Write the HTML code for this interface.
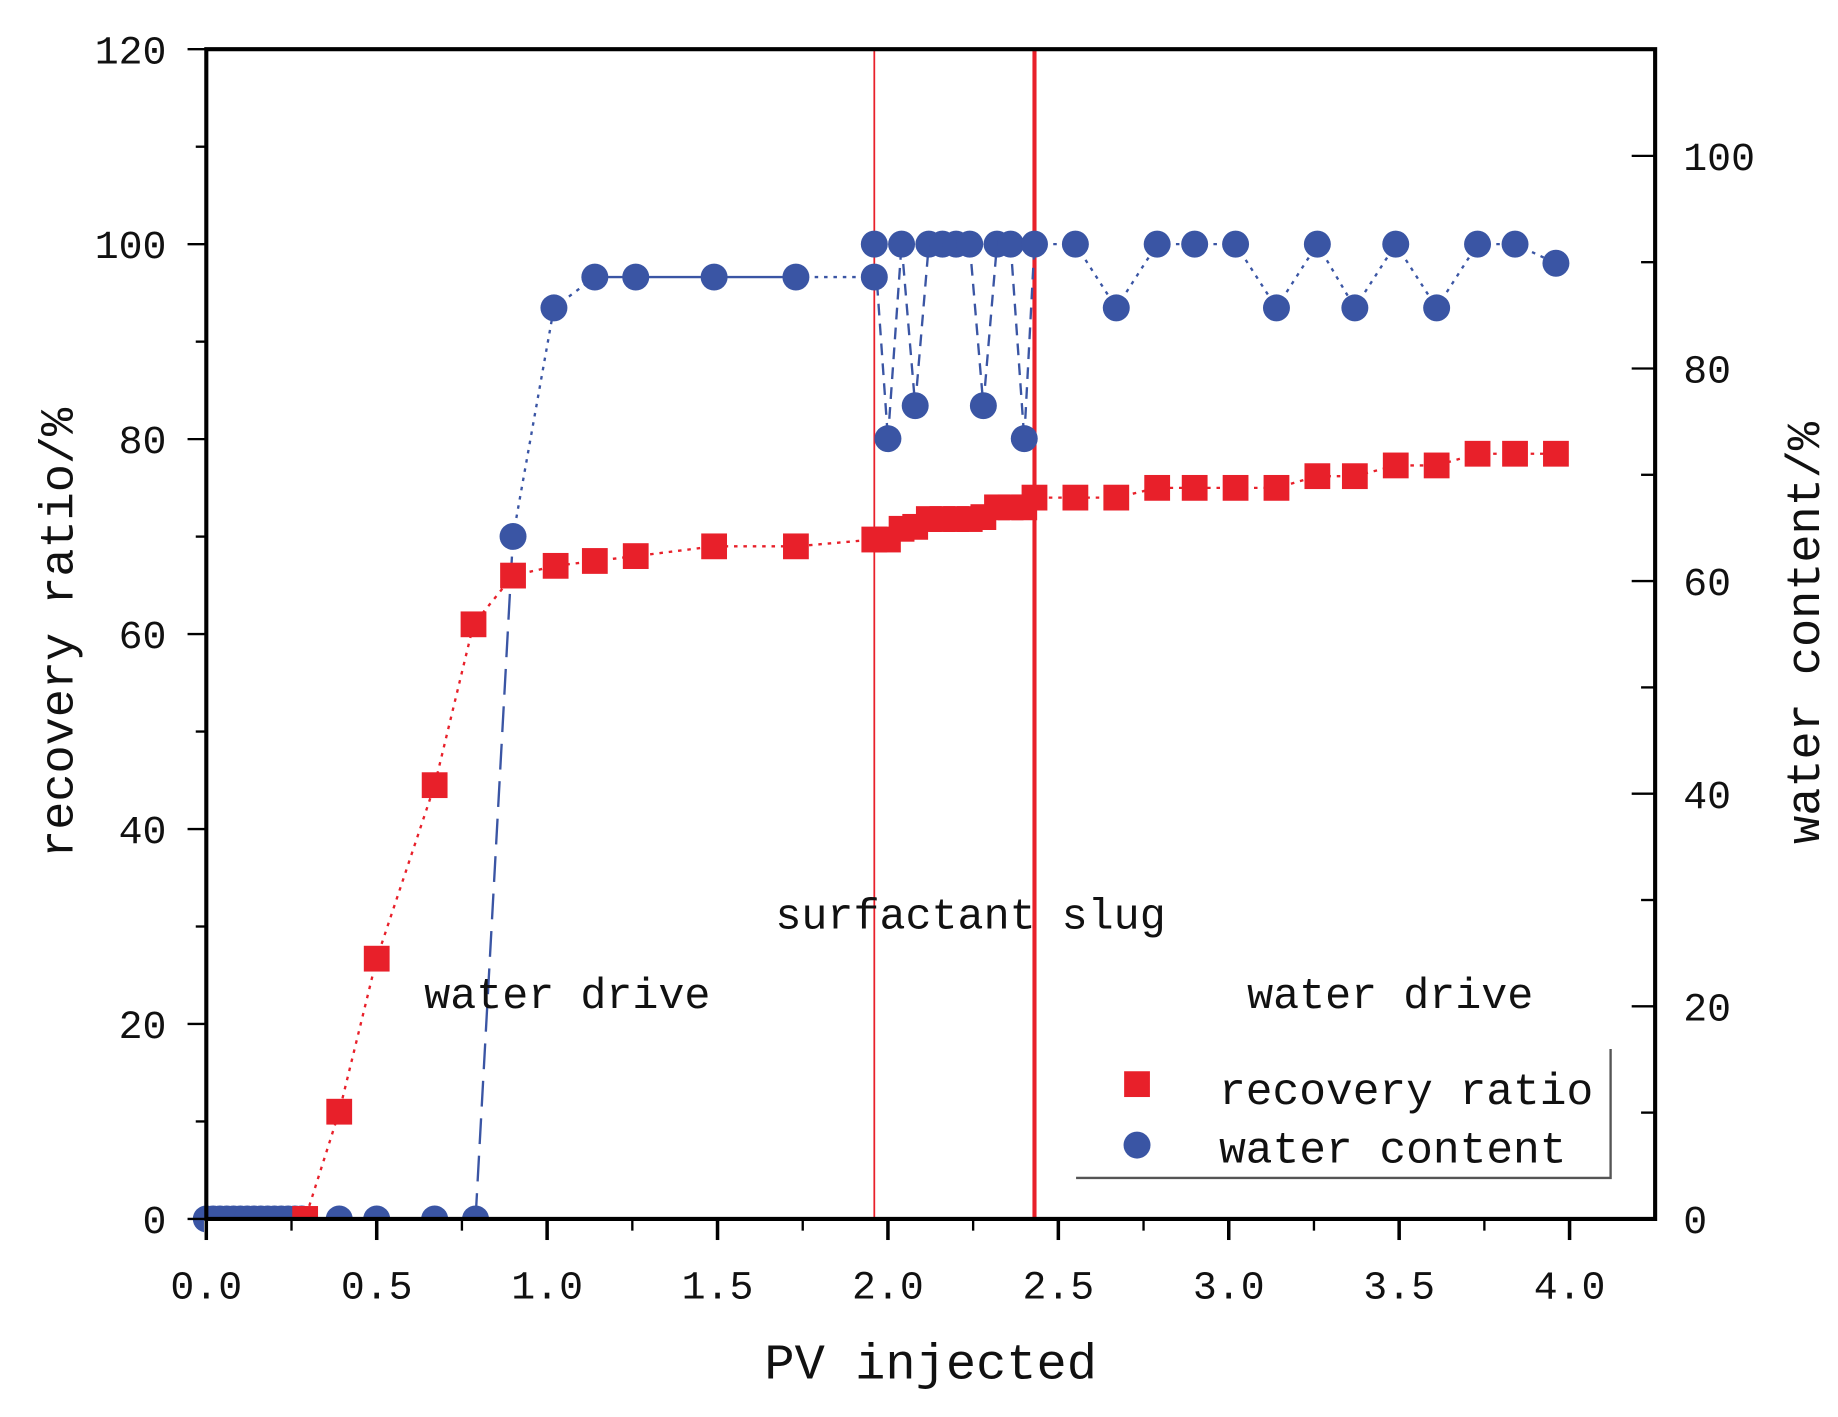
<!DOCTYPE html>
<html><head><meta charset="utf-8"><style>
html,body{margin:0;padding:0;background:#fff}
svg{display:block}
text{font-family:"Liberation Mono","Noto Sans CJK SC",monospace;fill:#111}
</style></head><body>
<svg id="chart" width="1838" height="1417" viewBox="0 0 1568 1209" preserveAspectRatio="none" xmlns="http://www.w3.org/2000/svg">
<g id="plot"></g>
</svg>
<script>
const recX=[0.29,0.39,0.50,0.67,0.784,0.90,1.025,1.14,1.26,1.49,1.73,1.96,2.00,2.04,2.08,2.12,2.16,2.20,2.24,2.28,2.32,2.36,2.40,2.43,2.55,2.67,2.79,2.90,3.02,3.14,3.26,3.37,3.49,3.61,3.73,3.84,3.96];
const recY=[0,11,26.7,44.5,61,66,67,67.5,68,69,69,69.7,69.7,70.8,71,71.8,71.8,71.8,71.8,72,73,73,73,74,74,74,75,75,75,75,76.2,76.2,77.3,77.3,78.5,78.5,78.5];
const watX=[0,0.02,0.04,0.06,0.08,0.10,0.12,0.14,0.16,0.18,0.20,0.22,0.24,0.26,0.28,0.39,0.50,0.67,0.79,0.90,1.02,1.14,1.26,1.49,1.73,1.96,1.96,2.00,2.04,2.08,2.12,2.16,2.20,2.24,2.28,2.32,2.36,2.40,2.43,2.55,2.67,2.79,2.90,3.02,3.14,3.26,3.37,3.49,3.61,3.73,3.84,3.96];
const watY=[0,0,0,0,0,0,0,0,0,0,0,0,0,0,0,0,0,0,0,64.2,85.7,88.6,88.6,88.6,88.6,88.6,91.7,73.4,91.7,76.5,91.7,91.7,91.7,91.7,76.5,91.7,91.7,73.4,91.7,91.7,85.7,91.7,91.7,91.7,85.7,91.7,85.7,91.7,85.7,91.7,91.7,89.9];
const xTicks=["0.0","0.5","1.0","1.5","2.0","2.5","3.0","3.5","4.0"];
const yLTicks=["0","20","40","60","80","100","120"];
const yRTicks=["0","20","40","60","80","100"];
const slugStart=1.96, slugEnd=2.43;

const X0=176,X1=1412,Y0=1040,YT=42;
const xs=v=>X0+v*290.75;
const yl=v=>Y0-v*(Y0-YT)/120;
const yr=v=>Y0-v*9.07;
const NS="http://www.w3.org/2000/svg";
const g=document.getElementById('plot');
function mk(tag,attrs,parent){const e=document.createElementNS(NS,tag);for(const k in attrs)e.setAttribute(k,attrs[k]);(parent||g).appendChild(e);return e;}

let l1=mk('line',{x1:xs(slugStart),x2:xs(slugStart),y1:YT,y2:Y0,stroke:'#e8202a','stroke-width':1.5});


let l2=mk('line',{x1:xs(slugEnd),x2:xs(slugEnd),y1:YT,y2:Y0,stroke:'#e8202a','stroke-width':3.5});



// water content line, segment styles vary
for(let i=1;i<watX.length;i++){
  const xa=watX[i-1],xb=watX[i];
  let dash='3,5';
  if(xa>=1.1&&xb<=1.8) dash='none';
  else if(xa>=1.9&&xb<=2.45) dash='10,7';
  else if(xa>=0.78&&xb<=0.91) dash='22,10';
  let s=mk('line',{x1:xs(xa),y1:yr(watY[i-1]),x2:xs(xb),y2:yr(watY[i]),stroke:'#3a55a4','stroke-width':2});
  if(dash!=='none')s.setAttribute('stroke-dasharray',dash);
  
  
}
let rp='M'+xs(0)+','+yl(0);
for(let i=0;i<recX.length;i++){rp+='L'+xs(recX[i])+','+yl(recY[i]);}
let rl=mk('path',{d:rp,fill:'none',stroke:'#e8202a','stroke-width':2,'stroke-dasharray':'3,5'});



for(let i=0;i<watX.length;i++){
  let c=mk('circle',{cx:xs(watX[i]),cy:yr(watY[i]),r:11.5,fill:'#3a55a4'});
  
  
}
for(let i=0;i<recX.length;i++){
  let s=mk('rect',{x:xs(recX[i])-11,y:yl(recY[i])-11,width:22,height:22,fill:'#e8202a'});
  
  
}
let cov=mk('rect',{x:X0-2,y:Y0+1,width:X1-X0+4,height:14,fill:'#fff'});



let fr=mk('path',{d:`M${X0},${YT}H${X1}V${Y0}H${X0}Z`,fill:'none',stroke:'#000','stroke-width':3.5});



for(let i=0;i<=16;i++){
  const v=i*0.25,maj=i%2===0;
  let t=mk('line',{x1:xs(v),x2:xs(v),y1:Y0,y2:Y0+(maj?18:10),stroke:'#000','stroke-width':maj?3:2});
  
  
}
xTicks.forEach((s,i)=>{
  let t=mk('text',{x:xs(i*0.5),y:1108,'text-anchor':'middle','font-size':34});
  t.textContent=s;
  
  
});
for(let v=0;v<=120;v+=10){
  const maj=v%20===0;
  let t=mk('line',{x1:X0-(maj?16:9),x2:X0,y1:yl(v),y2:yl(v),stroke:'#000','stroke-width':2});
  
  
}
yLTicks.forEach(s=>{
  let t=mk('text',{x:142,y:yl(+s)+12,'text-anchor':'end','font-size':34});
  t.textContent=s;
  
  
});
for(let v=0;v<=110;v+=10){
  const maj=v%20===0;
  let t=mk('line',{x1:X1-(maj?20:12),x2:X1,y1:yr(v),y2:yr(v),stroke:'#000','stroke-width':2});
  
  
}
yRTicks.forEach(s=>{
  let t=mk('text',{x:1436,y:yr(+s)+12,'text-anchor':'start','font-size':34});
  t.textContent=s;
  
  
});

function txt(x,y,s,size,name,rot){
  let t=mk('text',{x:x,y:y,'font-size':size,'text-anchor':'middle'});
  if(rot)t.setAttribute('transform',`rotate(${rot} ${x} ${y})`);
  t.textContent=s;
  
  
  return t;
}
txt(794,1176,'PV injected',43,'x-axis-title');
txt(62,540,'recovery ratio/%',40,'y-left-axis-title',-90);
txt(1552,540,'water content/%',40,'y-right-axis-title',-90);
txt(484,860,'water drive',37,'water-drive-label-1');
txt(1186,860,'water drive',37,'water-drive-label-2');
txt(828,792,'surfactant slug',37,'surfactant-slug-label');

let lg=mk('g',{});


mk('path',{d:'M918,1005H1374V895',fill:'none',stroke:'#555','stroke-width':2},lg);
let ls=mk('rect',{x:959,y:914,width:22,height:22,fill:'#e8202a'},lg);


let lc=mk('circle',{cx:970,cy:977,r:11.5,fill:'#3a55a4'},lg);


let lt1=mk('text',{x:1040,y:942,'font-size':38},lg);lt1.textContent='recovery ratio';


let lt2=mk('text',{x:1040,y:992,'font-size':38},lg);lt2.textContent='water content';


</script>
</body></html>
